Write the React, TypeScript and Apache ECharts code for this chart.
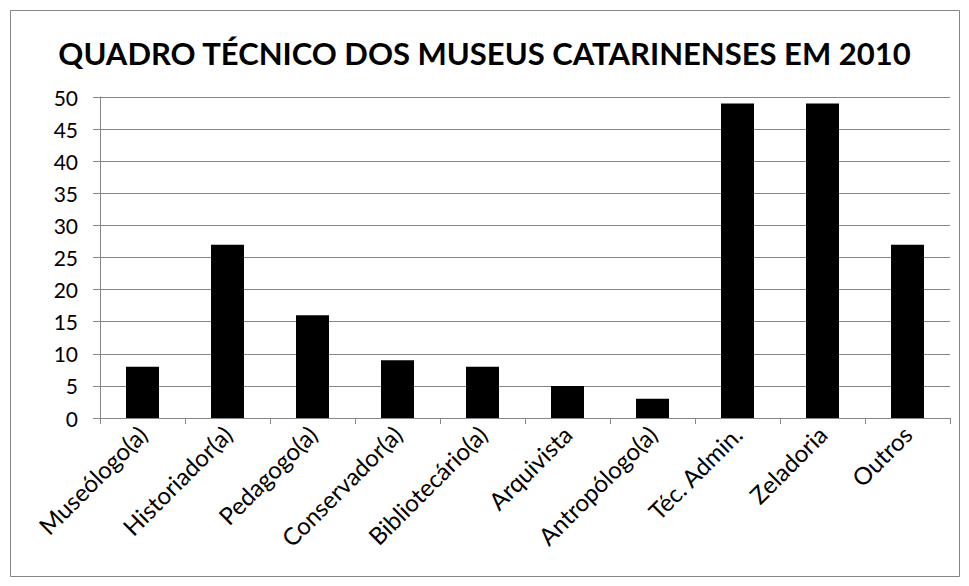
import React, { useEffect, useRef } from "react";
import * as echarts from "echarts";

const titleText = "QUADRO TÉCNICO DOS MUSEUS CATARINENSES EM 2010";
const categories = [
  "Museólogo(a)",
  "Historiador(a)",
  "Pedagogo(a)",
  "Conservador(a)",
  "Bibliotecário(a)",
  "Arquivista",
  "Antropólogo(a)",
  "Téc. Admin.",
  "Zeladoria",
  "Outros",
];
const values = [8, 27, 16, 9, 8, 5, 3, 49, 49, 27];
const yMin = 0;
const yMax = 50;
const yStep = 5;

const FONT = "Lato, 'Open Sans', sans-serif";

export default function App() {
  const ref = useRef<HTMLDivElement>(null);
  useEffect(() => {
    if (!ref.current) return;
    const chart = echarts.init(ref.current, undefined, { renderer: "svg" });
    chart.setOption({
      animation: false,
      backgroundColor: "#ffffff",
      title: {
        text: titleText,
        left: "center",
        top: 32,
        textStyle: {
          fontFamily: FONT,
          fontWeight: "bold",
          fontSize: 31,
          color: "#000000",
        },
      },
      graphic: [
        {
          type: "rect",
          shape: { x: 10.5, y: 10.5, width: 949, height: 566 },
          style: { fill: "none", stroke: "#868686", lineWidth: 1 },
          silent: true,
        },
      ],
      grid: { left: 100, right: 19, top: 97, bottom: 168, containLabel: false },
      xAxis: {
        type: "category",
        data: categories,
        axisLine: { show: true, lineStyle: { color: "#868686", width: 1 } },
        axisTick: { show: true, alignWithLabel: false, length: 6, lineStyle: { color: "#868686" } },
        axisLabel: {
          rotate: 45,
          interval: 0,
          margin: 12,
          fontFamily: FONT,
          fontSize: 24,
          color: "#000000",
        },
      },
      yAxis: {
        type: "value",
        min: yMin,
        max: yMax,
        interval: yStep,
        axisLine: { show: true, lineStyle: { color: "#868686", width: 1 } },
        axisTick: { show: true, length: 7, lineStyle: { color: "#868686" } },
        splitLine: { show: true, lineStyle: { color: "#868686", width: 1 } },
        axisLabel: {
          margin: 22,
          fontFamily: FONT,
          fontSize: 21,
          color: "#000000",
        },
      },
      series: [
        {
          type: "bar",
          data: values,
          barWidth: 33,
          itemStyle: { color: "#000000" },
        },
      ],
    });
    return () => chart.dispose();
  }, []);
  return (
    <div
      ref={ref}
      style={{ position: "fixed", left: 0, top: 0, width: 969, height: 586 }}
    />
  );
}
